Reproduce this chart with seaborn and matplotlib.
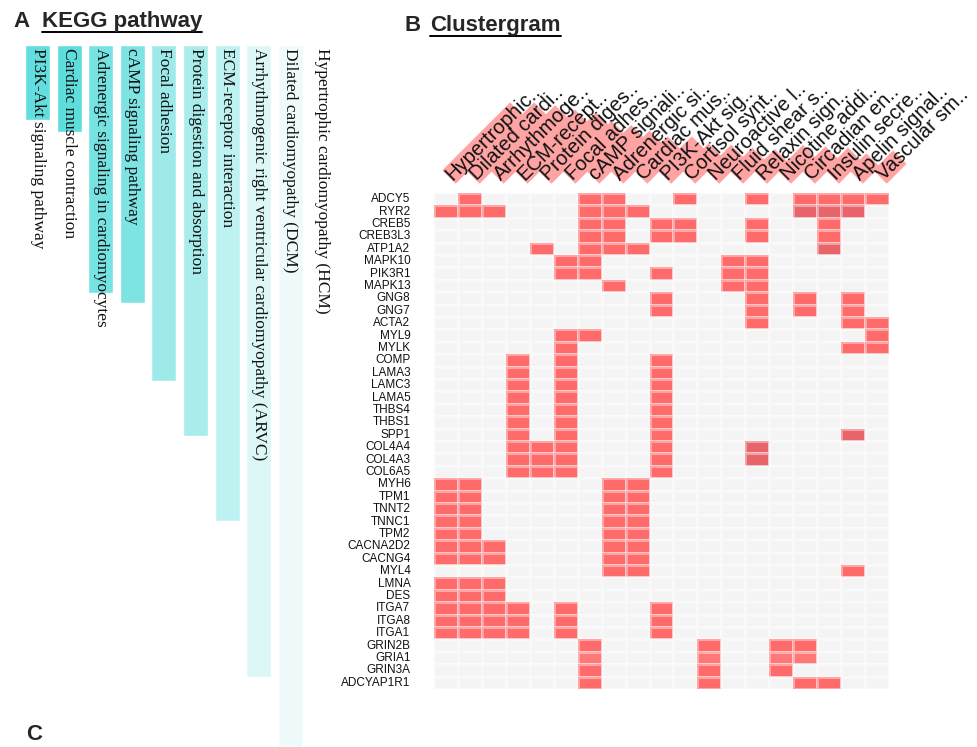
import numpy as np
import pandas as pd
import seaborn as sns
import matplotlib
matplotlib.use("Agg")
import matplotlib.pyplot as plt
from matplotlib.colors import ListedColormap
from matplotlib.patches import Polygon
from matplotlib.transforms import IdentityTransform
from matplotlib.lines import Line2D

# ---------------- data ----------------
kegg_terms = [
    "PI3K-Akt signaling pathway",
    "Cardiac muscle contraction",
    "Adrenergic signaling in cardiomyocytes",
    "cAMP signaling pathway",
    "Focal adhesion",
    "Protein digestion and absorption",
    "ECM-receptor interaction",
    "Arrhythmogenic right ventricular cardiomyopathy (ARVC)",
    "Dilated cardiomyopathy (DCM)",
    "Hypertrophic cardiomyopathy (HCM)",
]
kegg_bar = [75, 87, 248, 258, 336, 391, 476, 632, 760, 800]
kegg_palette = ["#63DEDE", "#5EDDDD", "#76E2E2", "#7DE3E3", "#9EEAEA",
                "#A8ECEC", "#BEF1F1", "#DDF7F7", "#EFFAFB", "#FFFFFF"]

col_labels = ["Hypertrophic..", "Dilated cardi..", "Arrhythmoge..", "ECM-recept..",
              "Protein diges..", "Focal adhes..", "cAMP signali..", "Adrenergic si..",
              "Cardiac mus..", "PI3K-Akt sig..", "Cortisol synt..", "Neuroactive l..",
              "Fluid shear s..", "Relaxin sign..", "Nicotine addi..", "Circadian en..",
              "Insulin secre..", "Apelin signal..", "Vascular sm.."]
col_score = [24, 24, 23, 21.5, 20.5, 17.5, 16, 14, 12, 12, 9.5, 9, 8, 7.5, 9, 8.5, 8, 6, 7]

genes = ["ADCY5", "RYR2", "CREB5", "CREB3L3", "ATP1A2", "MAPK10", "PIK3R1", "MAPK13",
         "GNG8", "GNG7", "ACTA2", "MYL9", "MYLK", "COMP", "LAMA3", "LAMC3", "LAMA5",
         "THBS4", "THBS1", "SPP1", "COL4A4", "COL4A3", "COL6A5", "MYH6", "TPM1", "TNNT2",
         "TNNC1", "TPM2", "CACNA2D2", "CACNG4", "MYL4", "LMNA", "DES", "ITGA7", "ITGA8",
         "ITGA1", "GRIN2B", "GRIA1", "GRIN3A", "ADCYAP1R1"]

gene_hits = {
    "ADCY5": [1, 6, 7, 10, 13, 15, 16, 17, 18],
    "RYR2": [0, 1, 2, 6, 7, 8, 15, 16, 17],
    "CREB5": [6, 7, 9, 10, 13, 16],
    "CREB3L3": [6, 7, 9, 10, 13, 16],
    "ATP1A2": [4, 6, 7, 8, 16],
    "MAPK10": [5, 6, 12, 13],
    "PIK3R1": [5, 6, 9, 12, 13],
    "MAPK13": [7, 12, 13],
    "GNG8": [9, 13, 15, 17],
    "GNG7": [9, 13, 15, 17],
    "ACTA2": [13, 17, 18],
    "MYL9": [5, 6, 18],
    "MYLK": [5, 17, 18],
    "COMP": [3, 5, 9],
    "LAMA3": [3, 5, 9],
    "LAMC3": [3, 5, 9],
    "LAMA5": [3, 5, 9],
    "THBS4": [3, 5, 9],
    "THBS1": [3, 5, 9],
    "SPP1": [3, 5, 9, 17],
    "COL4A4": [3, 4, 5, 9, 13],
    "COL4A3": [3, 4, 5, 9, 13],
    "COL6A5": [3, 4, 5, 9],
    "MYH6": [0, 1, 7, 8],
    "TPM1": [0, 1, 7, 8],
    "TNNT2": [0, 1, 7, 8],
    "TNNC1": [0, 1, 7, 8],
    "TPM2": [0, 1, 7, 8],
    "CACNA2D2": [0, 1, 2, 7, 8],
    "CACNG4": [0, 1, 2, 7, 8],
    "MYL4": [7, 8, 17],
    "LMNA": [0, 1, 2],
    "DES": [0, 1, 2],
    "ITGA7": [0, 1, 2, 3, 5, 9],
    "ITGA8": [0, 1, 2, 3, 5, 9],
    "ITGA1": [0, 1, 2, 3, 5, 9],
    "GRIN2B": [6, 11, 14, 15],
    "GRIA1": [6, 11, 14, 15],
    "GRIN3A": [6, 11, 14],
    "ADCYAP1R1": [6, 11, 15, 16],
}
# cells drawn in a darker (2) or lighter (3) red in the reference
dark_cells = [("RYR2", 15), ("RYR2", 16), ("RYR2", 17), ("ATP1A2", 16),
              ("COL4A4", 13), ("COL4A3", 13), ("SPP1", 17)]
light_cells = [("GRIA1", 6), ("GRIA1", 11), ("GRIA1", 14), ("GRIA1", 15)]

# ---------------- figure ----------------
W, H = 978, 747
fig = plt.figure(figsize=(W / 100, H / 100), dpi=100)
sns.set_style("white")
plt.rcParams["font.family"] = ["Liberation Sans", "DejaVu Sans"]


def px_axes(x0, y0, x1, y1):
    """axes from image pixel box (top-left origin)"""
    return fig.add_axes([x0 / W, 1 - y1 / H, (x1 - x0) / W, (y1 - y0) / H])


# ---- Panel A: KEGG bars ----
axA = px_axes(21.7, 45, 337.8, 747)
dfA = pd.DataFrame({"term": kegg_terms, "value": kegg_bar})
sns.barplot(data=dfA, x="term", y="value", hue="term", order=kegg_terms,
            palette=dict(zip(kegg_terms, kegg_palette)), saturation=1,
            legend=False, width=0.79, ax=axA)
axA.set_xlim(-0.5, len(kegg_terms) - 0.5)
axA.set_ylim(H - 45, 0)
axA.axis("off")
for i, t in enumerate(kegg_terms):
    axA.text(i, 3, t, rotation=-90, rotation_mode="anchor", ha="left", va="center",
             family=["Liberation Serif", "DejaVu Serif"], fontsize=12.5, color="#111111")

# ---- Panel B: clustergram ----
mat = np.zeros((len(genes), len(col_labels)))
for g, cols in gene_hits.items():
    for c in cols:
        mat[genes.index(g), c] = 1
for g, c in dark_cells:
    mat[genes.index(g), c] = 2
for g, c in light_cells:
    mat[genes.index(g), c] = 3
dfB = pd.DataFrame(mat, index=genes, columns=col_labels)

axB = px_axes(434, 193, 889, 689)
cmap = ListedColormap(["#F4F4F4", "#FF6A6A", "#E8646B", "#FF7878"])
sns.heatmap(dfB, cmap=cmap, vmin=-0.5, vmax=3.5, cbar=False, linewidths=0.8,
            linecolor=(1, 1, 1, 0.4), xticklabels=False, yticklabels=True, ax=axB)
axB.tick_params(axis="y", length=0, pad=17, labelsize=8.5, labelcolor="#111111")
for lab in axB.get_yticklabels():
    lab.set_rotation(0)
axB.set_xlabel("")
axB.set_ylabel("")

# column labels with rotated pink bars
ident = IdentityTransform()
u = np.array([1, 1]) / np.sqrt(2)
n = np.array([-1, 1]) / np.sqrt(2)
thick = 19
for j, lab in enumerate(col_labels):
    xd, yd = axB.transData.transform((j + 0.5, 0))
    o = np.array([xd + 3, yd + 16])
    L = col_score[j] * 4
    pts = [o - n * thick / 2, o - n * thick / 2 + u * L, o + n * thick / 2 + u * L, o + n * thick / 2]
    fig.add_artist(Polygon(pts, closed=True, transform=ident, facecolor="#FFA3A3",
                           edgecolor="none", zorder=1))
    fig.text(o[0], o[1], lab, transform=ident, rotation=45, rotation_mode="anchor",
             ha="left", va="center", fontsize=14.5, color="#111111", zorder=2)

# ---- titles ----
tA1 = fig.text(13 / W, 1 - 27 / H, "A", fontsize=16, fontweight="bold", va="baseline")
tA2 = fig.text(42 / W, 1 - 27 / H, "KEGG pathway", fontsize=16, fontweight="bold", va="baseline")
tB1 = fig.text(404 / W, 1 - 31 / H, "B", fontsize=16, fontweight="bold", va="baseline")
tB2 = fig.text(430 / W, 1 - 31 / H, "Clustergram", fontsize=16, fontweight="bold", va="baseline")
fig.text(26 / W, 1 - 745 / H, "C", fontsize=16, fontweight="bold", va="bottom")

fig.canvas.draw()
r = fig.canvas.get_renderer()
for t, yimg in [(tA2, 32), (tB2, 36)]:
    bb = t.get_window_extent(r)
    fig.add_artist(Line2D([bb.x0, bb.x1], [H - yimg, H - yimg], transform=ident,
                          color="black", lw=1.4))

fig.savefig("out.png", dpi=100)
